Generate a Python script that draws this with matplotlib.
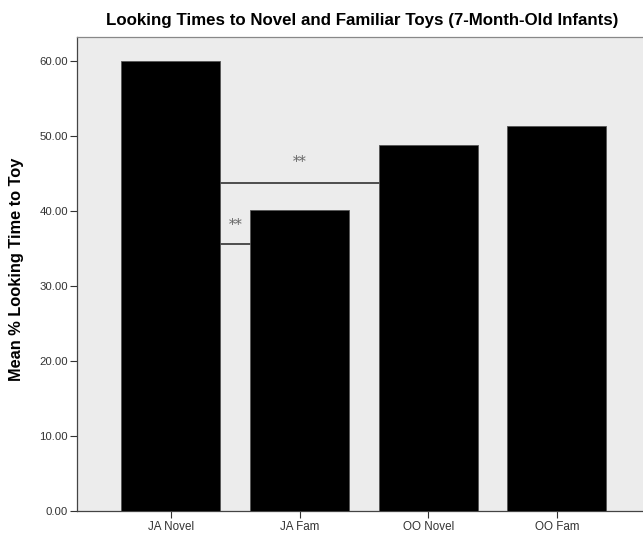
import matplotlib
matplotlib.use("Agg")
import matplotlib.pyplot as plt
import numpy as np

categories = ["JA Novel", "JA Fam", "OO Novel", "OO Fam"]
values = [60.0, 40.2, 48.8, 51.4]
yticks = [0, 10, 20, 30, 40, 50, 60]
sig_upper = 43.7   # JA Novel vs OO Novel
sig_lower = 35.6   # JA Novel vs JA Fam

plt.rcParams['font.family'] = ['Liberation Sans', 'DejaVu Sans']

fig = plt.figure(figsize=(6.43, 5.34), dpi=100)
ax = fig.add_axes([77/643, 23/534, 1 - 77/643, (511-37)/534])
ax.set_facecolor('#ececec')

x = np.arange(len(categories))
w = 0.77
ax.bar(x, values, width=w, color='black', edgecolor='#555555', linewidth=0.6, zorder=3)

ax.set_xlim(-0.73, 3.67)
ax.set_ylim(0, (511-37)/7.5)
ax.set_yticks(yticks)
ax.set_yticklabels([f"{v:.2f}" for v in yticks], fontsize=8.2, color='#333333')
ax.set_xticks(x)
ax.set_xticklabels(categories, fontsize=8.4, color='#333333')
ax.tick_params(axis='y', direction='out', length=5, width=0.8, color='#333333', pad=1.5)
ax.tick_params(axis='x', direction='out', length=5, width=0.8, color='#333333', pad=2)

for s in ['left', 'bottom', 'top']:
    ax.spines[s].set_color('#444444')
    ax.spines[s].set_linewidth(0.9)
ax.spines['right'].set_visible(False)
ax.spines['top'].set_color('#888888')

# significance markers
ax.plot([x[0] + w/2, x[2] - w/2], [sig_upper, sig_upper], color='#333333', lw=1.2, zorder=2)
ax.plot([x[0] + w/2, x[1] - w/2], [sig_lower, sig_lower], color='#333333', lw=1.2, zorder=2)
ax.text((x[0] + x[2]) / 2, sig_upper + 2.9, "**", ha='center', va='center',
        fontsize=10, color='#666666', family=['DejaVu Serif'])
ax.text((x[0] + x[1]) / 2, sig_lower + 2.6, "**", ha='center', va='center',
        fontsize=10, color='#666666', family=['DejaVu Serif'])

ax.set_ylabel("Mean % Looking Time to Toy", fontsize=11.8, fontweight='bold')
ax.yaxis.set_label_coords(-(77-24)/566, (511-269)/474)
fig.text(362/643, 1 - 20/534, "Looking Times to Novel and Familiar Toys (7-Month-Old Infants)",
         ha='center', va='center', fontsize=12.2, fontweight='bold')

fig.savefig("out.png", dpi=100)
